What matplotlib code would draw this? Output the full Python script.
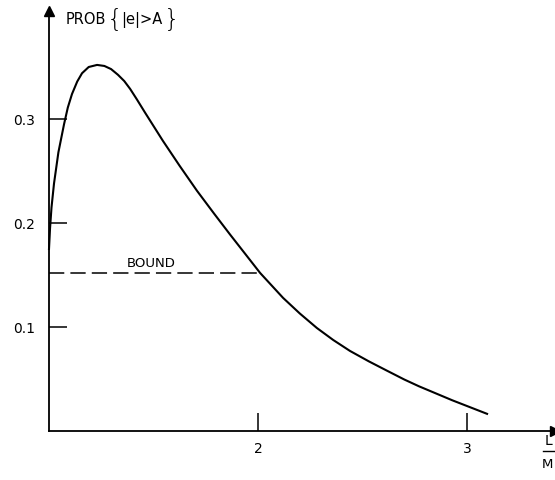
import matplotlib
matplotlib.use("Agg")
import matplotlib.pyplot as plt

# -----------------------------
# Data
# -----------------------------
ratio = [1.0, 1.005, 1.012, 1.024, 1.045, 1.072, 1.09, 1.110, 1.135, 1.158, 1.19,
         1.23, 1.265, 1.297, 1.33, 1.36, 1.388, 1.42, 1.46, 1.545, 1.625, 1.708,
         1.79, 1.866, 1.94, 2.01, 2.12, 2.2, 2.282, 2.36, 2.44, 2.53, 2.617,
         2.7, 2.77, 2.93, 3.096]
prob = [0.175, 0.195, 0.215, 0.238, 0.268, 0.295, 0.311, 0.324, 0.336, 0.344, 0.350,
        0.352, 0.351, 0.348, 0.3425, 0.3365, 0.329, 0.319, 0.306, 0.279, 0.255, 0.231,
        0.209, 0.189, 0.170, 0.152, 0.128, 0.113, 0.099, 0.0875, 0.077, 0.067, 0.058,
        0.0495, 0.043, 0.0295, 0.0165]

bound_value = 0.152
bound_end = 2.0

x_ticks = [2, 3]
y_ticks = [0.1, 0.2, 0.3]
y_tick_labels = ["0.1", "0.2", "0.3"]

W, H = 555, 481
FONT = "DejaVu Sans"


def main():
    fig = plt.figure(figsize=(W / 100, H / 100), dpi=100)
    # axes origin at pixel (49, 432), reaching the right edge / top arrow
    left, bottom = 49 / W, (H - 432) / H
    ax = fig.add_axes([left, bottom, 1 - left, (432 - 12) / H])
    ax.set_xlim(1, 1 + 506 / 209)
    ax.set_ylim(0, 420 / 1040)

    for side in ["top", "right"]:
        ax.spines[side].set_visible(False)
    for side in ["left", "bottom"]:
        ax.spines[side].set_linewidth(1.3)

    ax.set_xticks(x_ticks)
    ax.set_xticklabels([str(t) for t in x_ticks], fontsize=10, family=FONT)
    ax.set_yticks(y_ticks)
    ax.set_yticklabels(y_tick_labels, fontsize=10, family=FONT)
    ax.tick_params(direction="in", length=13, width=1.1, pad=7)
    ax.tick_params(axis="y", pad=10)

    # arrow heads on the axes
    ax.plot(0, 1, marker="^", markersize=7, color="black",
            transform=ax.transAxes, clip_on=False)
    ax.plot(1, 0, marker=">", markersize=7, color="black",
            transform=ax.transAxes, clip_on=False)

    # curve
    ax.plot(ratio, prob, color="black", linewidth=1.5, clip_on=False,
            solid_joinstyle="round")

    # bound
    ax.plot([1, bound_end], [bound_value, bound_value], color="black",
            linewidth=1.1, linestyle=(0, (10, 4)))
    ax.text(1.49, bound_value + 0.004, "BOUND", ha="center", va="bottom",
            fontsize=9.5, family=FONT)

    # y label
    y_lab = 1 - 20 / H
    fig.text(66 / W, y_lab, "PROB", ha="left", va="center",
             fontsize=10.5, family=FONT)
    fig.text(107 / W, y_lab, "{", ha="left", va="center",
             fontsize=18, family=FONT, fontweight="light")
    fig.text(121 / W, y_lab, "|e|>A", ha="left", va="center",
             fontsize=10.5, family=FONT)
    fig.text(164 / W, y_lab, "}", ha="left", va="center",
             fontsize=18, family=FONT, fontweight="light")

    # x label L/M at the right edge
    fig.text(545 / W, 1 - 441 / H, "L", ha="left", va="center",
             fontsize=10, family=FONT)
    fig.add_artist(plt.Line2D([543 / W, 1], [1 - 452 / H, 1 - 452 / H],
                              color="black", linewidth=1))
    fig.text(542 / W, 1 - 465 / H, "M", ha="left", va="center",
             fontsize=9.5, family=FONT)

    fig.savefig("out.png", dpi=100)
    plt.close(fig)


if __name__ == "__main__":
    main()
